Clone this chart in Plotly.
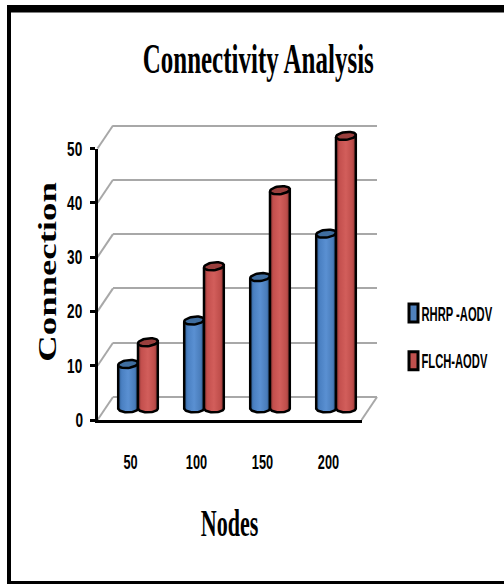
import numpy as np
import plotly.graph_objects as go

categories = ["50", "100", "150", "200"]
rhrp_aodv = [8, 16, 24, 32]
flch_aodv = [12, 26, 40, 50]
y_ticks = [0, 10, 20, 30, 40, 50]

W, H = 504, 584
BLUE, RED = "#4f81bd", "#c0504d"
BLUE_GRAD = [[0, "#2c5a90"], [0.18, "#4a80c2"], [0.5, "#5a90d2"], [0.82, "#4a7dbb"], [1, "#2c5788"]]
RED_GRAD = [[0, "#8c3634"], [0.18, "#c4504e"], [0.5, "#d25e5b"], [0.82, "#bf4e4b"], [1, "#8a3432"]]
BLUE_CAP, RED_CAP = "#3f6d9f", "#9a3f3d"
BAR_W = 0.30
BAR_GAP = 0.40
RX, RY, TILT = 0.15, 0.72, 0.9
EDGE = 2.5


def px_x(p):
    return p / W


def px_y(p):
    return 1 - p / H


fig = go.Figure()


def cylinder(center, value, grad, cap):
    t = np.linspace(0, np.pi, 31)
    bx = center + RX * np.cos(t)
    by = -RY * np.sin(t)
    xs = [center - RX, center + RX] + list(bx) + [center - RX]
    ys = [value, value + TILT * RY * 0.6] + list(by) + [value]
    fig.add_trace(go.Scatter(
        x=xs, y=ys, xaxis="x2", yaxis="y2", mode="lines", showlegend=False, hoverinfo="skip",
        line=dict(color="#000000", width=EDGE), fill="toself",
        fillgradient=dict(type="horizontal", colorscale=grad),
    ))
    a = np.linspace(0, 2 * np.pi, 41)
    cx = center + RX * np.cos(a)
    cy = value + RY * np.sin(a) + TILT * RY * 0.6 * (np.cos(a) + 1) / 2
    fig.add_trace(go.Scatter(
        x=cx, y=cy, xaxis="x2", yaxis="y2", mode="lines", showlegend=False, hoverinfo="skip",
        line=dict(color="#000000", width=EDGE), fill="toself", fillcolor=cap,
    ))


xs = list(range(len(categories)))
fig.add_trace(go.Bar(name="RHRP -AODV", x=xs, y=rhrp_aodv, xaxis="x2", yaxis="y2",
                     marker=dict(color=BLUE, line=dict(color="#000000", width=2)),
                     legendgroup="a"))
fig.add_trace(go.Bar(name="FLCH-AODV", x=xs, y=flch_aodv, xaxis="x2", yaxis="y2",
                     marker=dict(color=RED, line=dict(color="#000000", width=2)),
                     legendgroup="b"))
for i in xs:
    cylinder(i - BAR_W / 2, rhrp_aodv[i], BLUE_GRAD, BLUE_CAP)
for i in xs:
    cylinder(i + BAR_W / 2, flch_aodv[i], RED_GRAD, RED_CAP)

# invisible carriers so the wall and front-axis subplots exist
fig.add_trace(go.Scatter(x=xs, y=[None] * 4, xaxis="x", yaxis="y", showlegend=False, hoverinfo="skip"))
fig.add_trace(go.Scatter(x=xs, y=[None] * 4, xaxis="x3", yaxis="y3", showlegend=False, hoverinfo="skip"))

x_range = [-0.5, 3.5]
hidden = dict(showgrid=False, zeroline=False, showticklabels=False, ticks="", showline=False)

# pixel planes (zero line and px per unit): back wall, bars (mid depth), front axes
PX_UNIT = 5.43
BACK = dict(x0=113, x1=377, y0=397, lo=-2, hi=52)
MID = dict(x0=105, x1=369, y0=408.5, lo=-4, hi=56)
FRONT = dict(x0=97.5, x1=361.5, y0=420, lo=0, hi=50)


def dom_x(p):
    return [px_x(p["x0"]), px_x(p["x1"])]


def dom_y(p):
    return [px_y(p["y0"] - p["lo"] * PX_UNIT), px_y(p["y0"] - p["hi"] * PX_UNIT)]


def rng(p):
    return [p["lo"], p["hi"]]


tick_font = dict(family="Liberation Sans", size=15, color="#000000", weight="bold")

fig.update_layout(
    width=W, height=H, autosize=False, margin=dict(l=0, r=0, t=0, b=0, autoexpand=False),
    paper_bgcolor="#ffffff", plot_bgcolor="rgba(0,0,0,0)",
    barmode="group", bargap=BAR_GAP, bargroupgap=0,
    xaxis=dict(domain=dom_x(BACK), range=x_range, anchor="y", **hidden),
    yaxis=dict(domain=dom_y(BACK), range=rng(BACK), anchor="x", tickvals=y_ticks,
               showgrid=True, gridcolor="#a8a8a8", gridwidth=2, zeroline=False,
               showticklabels=False, ticks="", showline=False),
    xaxis2=dict(domain=dom_x(MID), range=x_range, anchor="y2", **hidden),
    yaxis2=dict(domain=dom_y(MID), range=rng(MID), anchor="x2", **hidden),
    xaxis3=dict(domain=dom_x(FRONT), range=x_range, anchor="y3", tickvals=xs, ticktext=categories,
                showline=True, linecolor="#000000", linewidth=3, ticks="", showgrid=False, zeroline=False,
                tickfont=tick_font, ticklabelstandoff=26),
    yaxis3=dict(domain=dom_y(FRONT), range=rng(FRONT), anchor="x3", tickvals=y_ticks,
                showline=True, linecolor="#000000", linewidth=3, ticks="outside", ticklen=5,
                tickwidth=3, tickcolor="#000000", showgrid=False, zeroline=False,
                tickfont=dict(tick_font, size=17), ticklabelstandoff=2),
    showlegend=True,
    legend=dict(x=393.5 / W, y=px_y(296), xanchor="left", yanchor="top", traceorder="grouped",
                tracegroupgap=24, bgcolor="rgba(0,0,0,0)", itemwidth=30,
                font=dict(family="Liberation Sans", size=16, color="#000000", weight="bold")),
    hovermode=False,
)

shapes = []
# wall diagonals, one per y tick, running from the front axis to the back wall
for v in y_ticks:
    shapes.append(dict(type="line", xref="paper", yref="paper", layer="below",
                       x0=px_x(FRONT["x0"]), y0=px_y(FRONT["y0"] - v * PX_UNIT),
                       x1=px_x(BACK["x0"]), y1=px_y(BACK["y0"] - v * PX_UNIT),
                       line=dict(color="#a8a8a8", width=2)))
shapes.append(dict(type="line", xref="paper", yref="paper", layer="below",
                   x0=px_x(FRONT["x1"]), y0=px_y(FRONT["y0"]),
                   x1=px_x(BACK["x1"]), y1=px_y(BACK["y0"]),
                   line=dict(color="#a8a8a8", width=2)))
# outer frame
for (x0, y0, x1, y1) in [(7, 5, 504, 12.5), (7, 5, 11, 584), (7, 581, 504, 584)]:
    shapes.append(dict(type="rect", xref="paper", yref="paper", layer="above",
                       x0=px_x(x0), y0=px_y(y0), x1=px_x(x1), y1=px_y(y1),
                       fillcolor="#000000", line=dict(width=0)))
fig.update_layout(shapes=shapes)

serif = "Liberation Serif"
anchor = dict(xref="paper", yref="paper", xanchor="center", yanchor="middle", showarrow=False)
fig.add_annotation(text="Connectivity Analysis", x=px_x(258), y=px_y(59),
                   font=dict(family=serif, size=42, color="#000000", weight="bold"), **anchor)
fig.add_annotation(text="Nodes", x=px_x(229), y=px_y(523),
                   font=dict(family=serif, size=38, color="#000000", weight="bold"), **anchor)
fig.add_annotation(text="Connection", x=px_x(47), y=px_y(272), textangle=-90,
                   font=dict(family=serif, size=25, color="#000000", weight="bold"), **anchor)

post = """
document.body.style.margin='0';
document.documentElement.style.overflow='hidden';
function st(el,sx,sy,left,dx){
  var b=el.getBBox(),cx=left?b.x:b.x+b.width/2,cy=b.y+b.height/2,t=el.getAttribute('transform')||'';
  el.setAttribute('transform',t+' translate('+(cx+(dx||0))+','+cy+') scale('+sx+','+sy+') translate('+(-cx)+','+(-cy)+')');
}
var gd=document.querySelector('.plotly-graph-div');
gd.querySelectorAll('.annotation-text').forEach(function(e){
  var s=e.textContent;
  if(s.indexOf('Connectivity')==0) st(e,0.595,1);
  else if(s=='Nodes') st(e,0.58,1);
  else if(s=='Connection') st(e,1.47,1);
});
gd.querySelectorAll('.y3tick text').forEach(function(e){ st(e,0.8,1.2); });
gd.querySelectorAll('.x3tick text').forEach(function(e){ st(e,0.85,1.3); });
gd.querySelectorAll('.legend .legendtext').forEach(function(e){ st(e,0.7,1.25,true,-12); });
gd.querySelectorAll('.legend .legendbar path, .legend .legendundefined').forEach(function(e){
  e.setAttribute('d','M4.5,9H-4.5V-9H4.5Z'); e.style.strokeWidth='3px';
});
"""
fig.write_html("out.html", post_script=post, config=dict(displayModeBar=False))
